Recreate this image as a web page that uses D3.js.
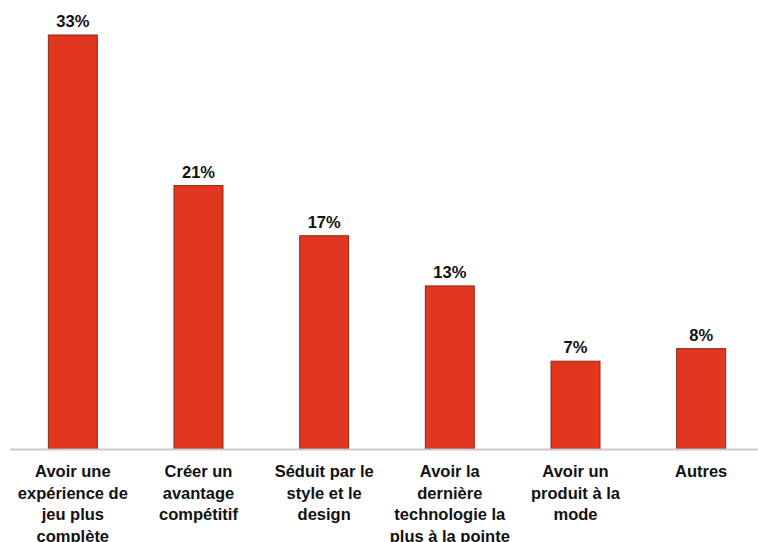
<!DOCTYPE html>
<html>
<head>
<meta charset="utf-8">
<script src="https://cdn.jsdelivr.net/npm/d3@7"></script>
<style>
  body { margin: 0; background: #fff; }
  svg text { font-family: "Liberation Sans", Arial, Helvetica, sans-serif; font-weight: bold; fill: #111; }
</style>
</head>
<body>
<div id="chart"></div>
<script>
// categories (one entry per bar, with line breaks as in the picture)
const categories = [
  ['Avoir une', 'expérience de', 'jeu plus', 'complète'],
  ['Créer un', 'avantage', 'compétitif'],
  ['Séduit par le', 'style et le', 'design'],
  ['Avoir la', 'dernière', 'technologie la', 'plus à la pointe'],
  ['Avoir un', 'produit à la', 'mode'],
  ['Autres']
];
const values = [33, 21, 17, 13, 7, 8];

const width = 758, height = 542;
const baseY = 449;

let svg = d3.select('#chart').append('svg')
  .attr('width', width)
  .attr('height', height);

let x = d3.scaleBand()
  .domain(d3.range(values.length))
  .range([10, 764])
  .paddingInner(0.61)
  .paddingOuter(0.305);

let y = d3.scaleLinear()
  .domain([0, 33])
  .range([baseY, 35]);

svg.selectAll('.bar')
  .data(values)
  .enter().append('rect')
  .classed('bar', true)
  .attr('x', (d, i) => x(i))
  .attr('y', d => y(d))
  .attr('width', x.bandwidth())
  .attr('height', d => baseY - y(d))
  .attr('fill', '#e2371f')
  .attr('stroke', '#8c2a18')
  .attr('stroke-width', 1);

// baseline
svg.append('line')
  .attr('x1', 10).attr('x2', width)
  .attr('y1', baseY + 0.5).attr('y2', baseY + 0.5)
  .attr('stroke', '#c9c9c9')
  .attr('stroke-width', 2);

svg.selectAll('.val')
  .data(values)
  .enter().append('text')
  .classed('val', true)
  .attr('x', (d, i) => x(i) + x.bandwidth() / 2)
  .attr('y', d => y(d) - 8)
  .attr('text-anchor', 'middle')
  .style('font-size', '16.5px')
  .text(d => d + '%');

let labels = svg.selectAll('.cat')
  .data(categories)
  .enter().append('text')
  .classed('cat', true)
  .attr('text-anchor', 'middle')
  .style('font-size', '16.5px');

labels.selectAll('tspan')
  .data((d, i) => d.map(line => ({ line: line, i: i })))
  .enter().append('tspan')
  .attr('x', d => x(d.i) + x.bandwidth() / 2)
  .attr('y', (d, j) => 477 + j * 21.5)
  .text(d => d.line);
</script>
</body>
</html>
